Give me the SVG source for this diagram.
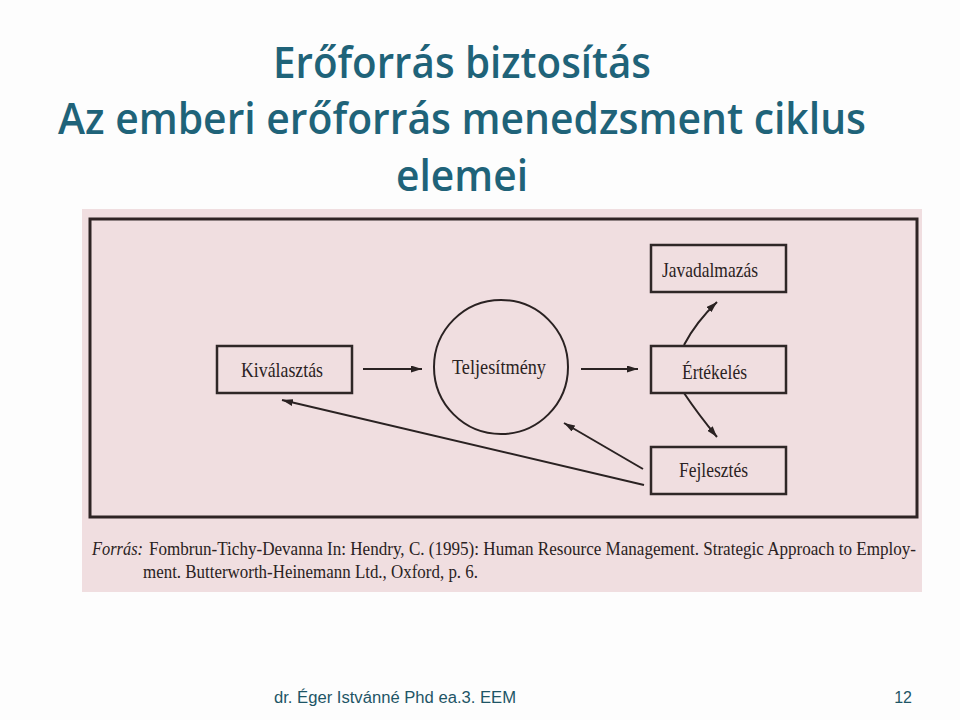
<svg xmlns="http://www.w3.org/2000/svg" width="960" height="720" viewBox="0 0 960 720">
<defs>
<style>
.title{font-family:"Open Sans","Liberation Sans",sans-serif;font-weight:600;font-size:44px;fill:#1f6379;text-anchor:middle}
.lbl{font-family:"Liberation Serif",serif;font-size:21px;fill:#2a2222}
.cap{font-family:"Liberation Serif",serif;font-size:18px;fill:#2a2222}
.box{fill:none;stroke:#2f2727;stroke-width:2.5}
.conn{fill:none;stroke:#2a2222;stroke-width:2}
.foot{font-family:"Liberation Sans",sans-serif;font-size:16px;fill:#1e5566}
</style>
<marker id="ah" viewBox="0 0 11 7" refX="11" refY="3.5" markerWidth="11" markerHeight="7" markerUnits="userSpaceOnUse" orient="auto">
<path d="M0,0 L11,3.5 L0,7 z" fill="#2a2222"/>
</marker>
</defs>
<rect width="960" height="720" fill="#fdfdfd"/>
<g id="title">
<text class="title" x="462" y="78" textLength="378" lengthAdjust="spacingAndGlyphs">Erőforrás biztosítás</text>
<text class="title" x="462" y="134" textLength="808" lengthAdjust="spacingAndGlyphs">Az emberi erőforrás menedzsment ciklus</text>
<text class="title" x="462" y="191" textLength="132" lengthAdjust="spacingAndGlyphs">elemei</text>
</g>
<rect x="82" y="209" width="840" height="383" fill="#f0dee0"/>
<rect x="90" y="219" width="827" height="298" fill="none" stroke="#2e2424" stroke-width="3"/>
<g id="connectors">
<line class="conn" x1="363" y1="369" x2="422" y2="369" marker-end="url(#ah)"/>
<line class="conn" x1="581" y1="369" x2="638" y2="369" marker-end="url(#ah)"/>
<path class="conn" d="M684,345 Q696,322 717,302" marker-end="url(#ah)"/>
<path class="conn" d="M684,393 Q698,414 717,437" marker-end="url(#ah)"/>
<line class="conn" x1="643" y1="469" x2="564" y2="423" marker-end="url(#ah)"/>
<line class="conn" x1="644" y1="485" x2="282" y2="400" marker-end="url(#ah)"/>
</g>
<g id="kivalasztas">
<rect class="box" x="217" y="346" width="135" height="47"/>
<text class="lbl" x="241" y="377" textLength="82" lengthAdjust="spacingAndGlyphs">Kiválasztás</text>
</g>
<g id="teljesitmeny">
<ellipse cx="501" cy="367" rx="67" ry="67" fill="none" stroke="#2a2222" stroke-width="2"/>
<text class="lbl" x="452" y="374" textLength="94" lengthAdjust="spacingAndGlyphs">Teljesítmény</text>
</g>
<g id="javadalmazas">
<rect class="box" x="651" y="245" width="135" height="47"/>
<text class="lbl" x="662" y="277" textLength="96" lengthAdjust="spacingAndGlyphs">Javadalmazás</text>
</g>
<g id="ertekeles">
<rect class="box" x="651" y="346" width="135" height="47"/>
<text class="lbl" x="682" y="379" textLength="65" lengthAdjust="spacingAndGlyphs">Értékelés</text>
</g>
<g id="fejlesztes">
<rect class="box" x="651" y="447" width="135" height="47"/>
<text class="lbl" x="679" y="477" textLength="69" lengthAdjust="spacingAndGlyphs">Fejlesztés</text>
</g>
<g id="caption">
<text class="cap" x="92" y="555" font-style="italic" textLength="51" lengthAdjust="spacingAndGlyphs">Forrás:</text>
<text class="cap" x="149" y="555" textLength="767" lengthAdjust="spacingAndGlyphs">Fombrun-Tichy-Devanna In: Hendry, C. (1995): Human Resource Management. Strategic Approach to Employ-</text>
<text class="cap" x="143" y="578" textLength="335" lengthAdjust="spacingAndGlyphs">ment. Butterworth-Heinemann Ltd., Oxford, p. 6.</text>
</g>
<g id="footer">
<text class="foot" x="274" y="703" textLength="242" lengthAdjust="spacingAndGlyphs">dr. Éger Istvánné Phd ea.3. EEM</text>
<text class="foot" x="912" y="703" text-anchor="end">12</text>
</g>
</svg>
